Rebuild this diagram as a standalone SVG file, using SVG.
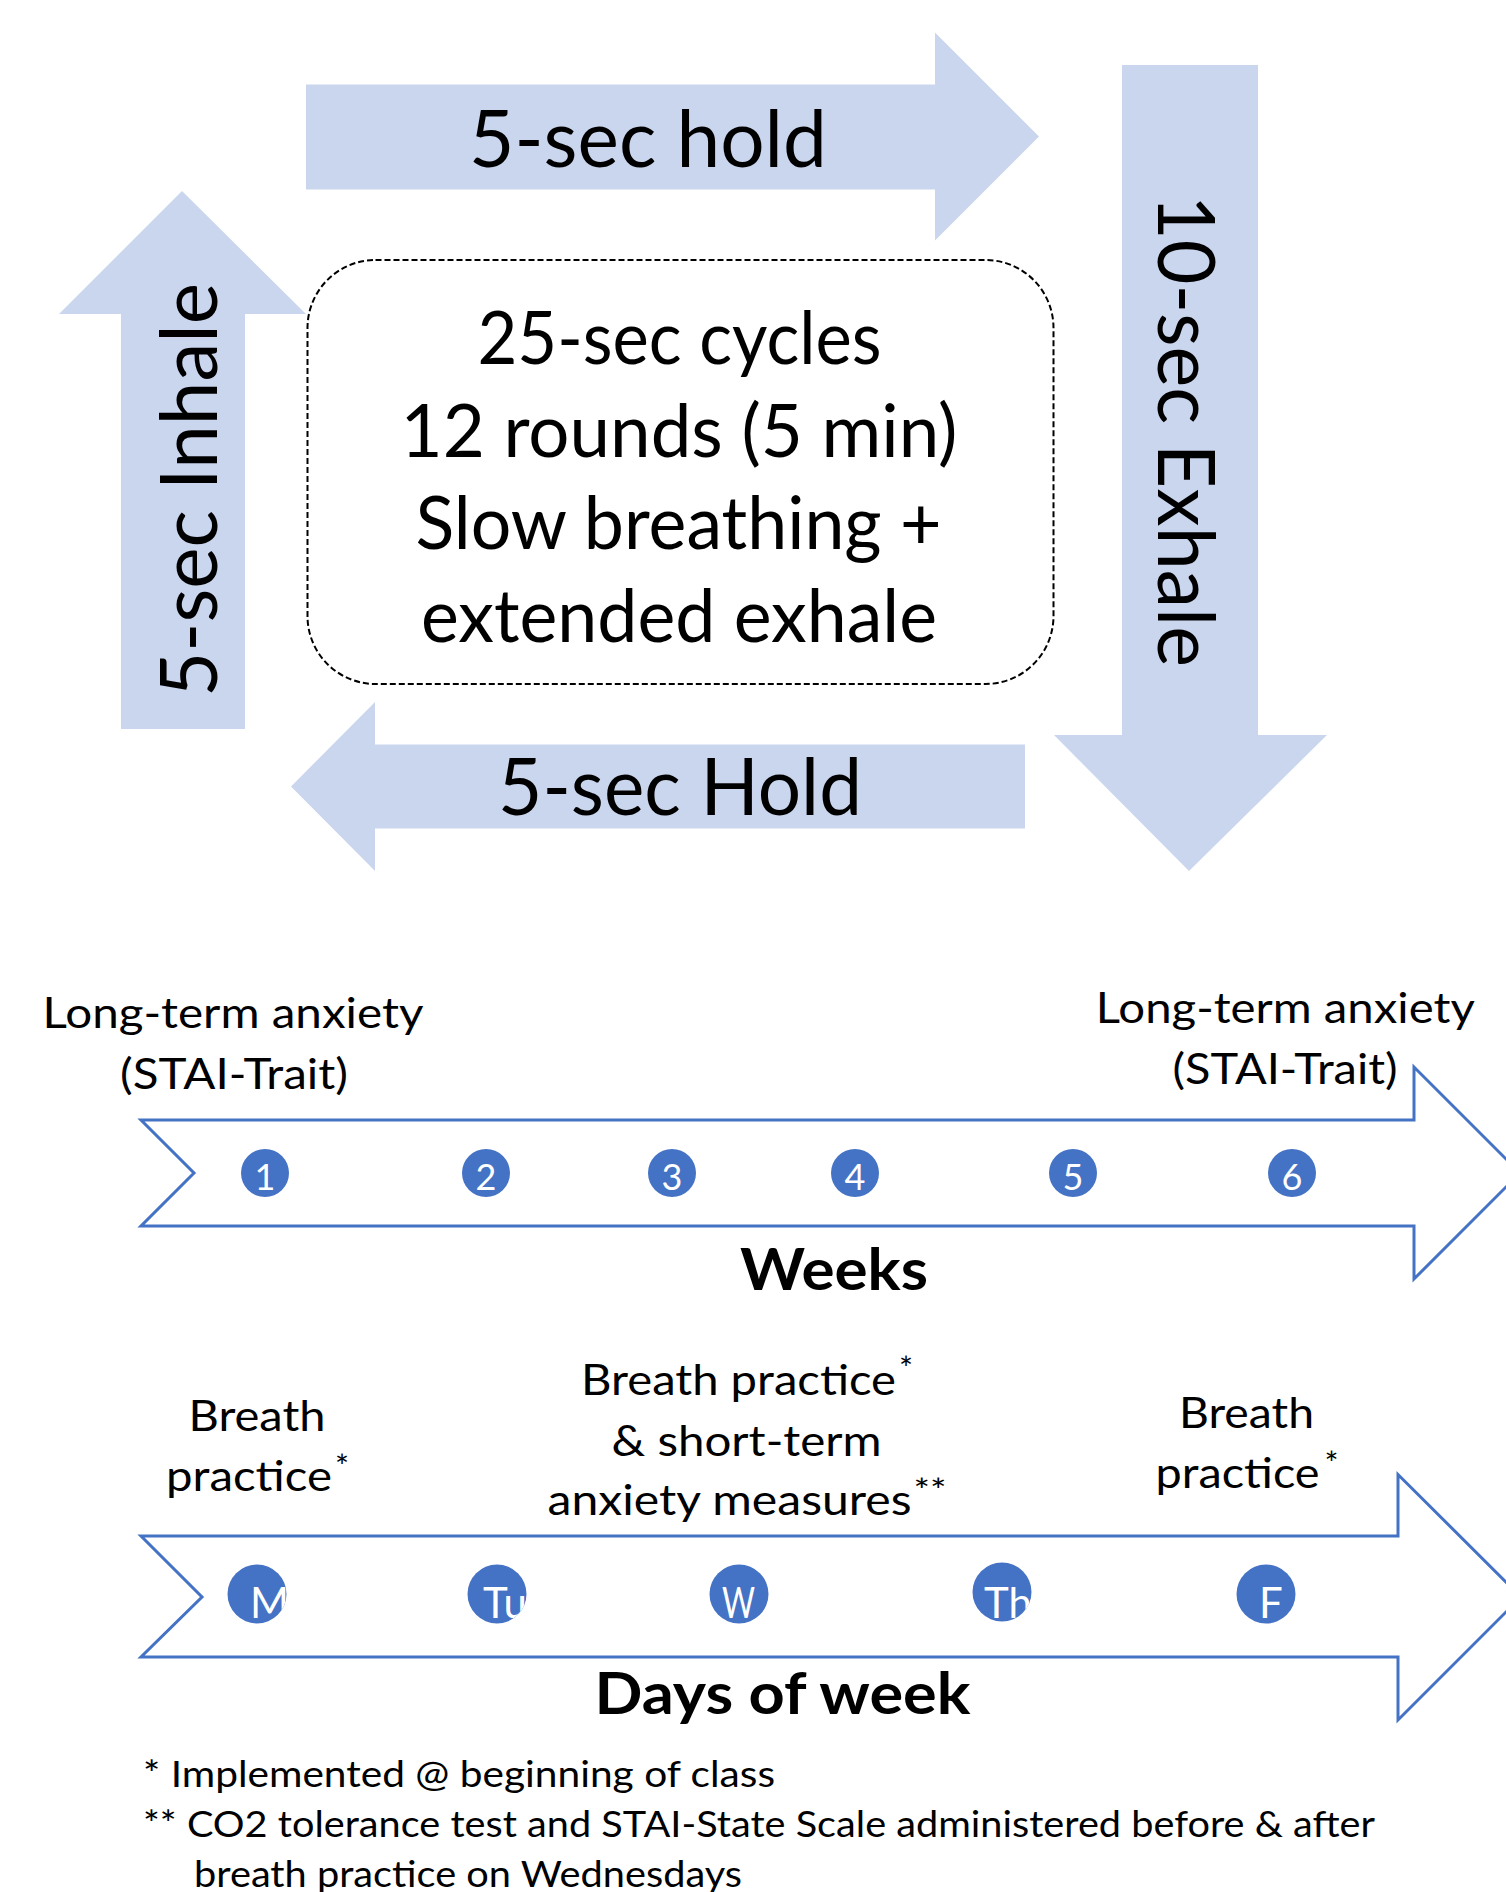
<svg xmlns="http://www.w3.org/2000/svg" width="1506" height="1892" viewBox="0 0 1506 1892">
<style>
  .t { font-family: Lato, 'Open Sans', 'DejaVu Sans', sans-serif; fill: #000; }
  .big { font-size: 80px; }
  .box { font-size: 73px; }
  .lbl { font-size: 42px; }
  .sup { font-size: 33px; }
  .foot { font-size: 37px; }
  .hdr { font-size: 58px; font-weight: bold; }
  .band { fill: #CAD6EE; }
  .tl { fill: #FFFFFF; stroke: #4472C4; stroke-width: 3; stroke-linejoin: miter; }
  .dot { fill: #4472C4; }
  .num { font-family: Lato, 'Open Sans', 'DejaVu Sans', sans-serif; fill: #FFFFFF; font-size: 36px; text-anchor: middle; }
  .day { font-family: Lato, 'Open Sans', 'DejaVu Sans', sans-serif; fill: #FFFFFF; font-size: 42px; }
</style>
<defs>
  <clipPath id="cM"><circle cx="257" cy="1594" r="29.5"/></clipPath>
  <clipPath id="cTu"><circle cx="497" cy="1594" r="29.5"/></clipPath>
  <clipPath id="cW"><circle cx="739" cy="1594" r="29.5"/></clipPath>
  <clipPath id="cTh"><circle cx="1002" cy="1592" r="29.5"/></clipPath>
  <clipPath id="cF"><circle cx="1266" cy="1594" r="29.5"/></clipPath>
</defs>
<rect width="1506" height="1892" fill="#FFFFFF"/>

<g id="connectors"></g>

<g id="hold-top">
  <polygon class="band" points="306,84.5 935,84.5 935,32.5 1039,136.5 935,240.5 935,189.5 306,189.5"/>
  <text class="t big" x="648" y="167" text-anchor="middle" textLength="358" lengthAdjust="spacingAndGlyphs">5-sec hold</text>
</g>

<g id="exhale">
  <polygon class="band" points="1122,65 1258,65 1258,735 1327,735 1189,871 1054,735 1122,735"/>
  <text class="t big" transform="translate(1158,431) rotate(90)" x="0" y="0" text-anchor="middle" textLength="472" lengthAdjust="spacingAndGlyphs">10-sec Exhale</text>
</g>

<g id="hold-bottom">
  <polygon class="band" points="1025,744.5 1025,828.5 375,828.5 375,871 291,786.5 375,702 375,744.5"/>
  <text class="t big" x="680" y="815" text-anchor="middle" textLength="364" lengthAdjust="spacingAndGlyphs">5-sec Hold</text>
</g>

<g id="inhale">
  <polygon class="band" points="121,729 121,314 59,314 182,191 306,314 245,314 245,729"/>
  <text class="t big" transform="translate(217,490) rotate(-90)" x="0" y="0" text-anchor="middle" textLength="414" lengthAdjust="spacingAndGlyphs">5-sec Inhale</text>
</g>

<g id="cycle-box">
  <rect x="307.5" y="260" width="746" height="424" rx="68" ry="68" fill="#FFFFFF" stroke="#000000" stroke-width="2" stroke-dasharray="6,3"/>
  <text class="t box" x="679.5" y="364" text-anchor="middle" textLength="404" lengthAdjust="spacingAndGlyphs">25-sec cycles</text>
  <text class="t box" x="679" y="456.7" text-anchor="middle" textLength="557" lengthAdjust="spacingAndGlyphs">12 rounds (5 min)</text>
  <text class="t box" x="678.5" y="549.4" text-anchor="middle" textLength="526" lengthAdjust="spacingAndGlyphs">Slow breathing +</text>
  <text class="t box" x="679" y="642" text-anchor="middle" textLength="516" lengthAdjust="spacingAndGlyphs">extended exhale</text>
</g>

<g id="trait-left">
  <text class="t lbl" x="233" y="1028" text-anchor="middle" textLength="381" lengthAdjust="spacingAndGlyphs">Long-term anxiety</text>
  <text class="t lbl" x="234" y="1089" text-anchor="middle" textLength="228" lengthAdjust="spacingAndGlyphs">(STAI-Trait)</text>
</g>

<g id="trait-right">
  <text class="t lbl" x="1285.3" y="1022.7" text-anchor="middle" textLength="379" lengthAdjust="spacingAndGlyphs">Long-term anxiety</text>
  <text class="t lbl" x="1285" y="1084" text-anchor="middle" textLength="225" lengthAdjust="spacingAndGlyphs">(STAI-Trait)</text>
</g>

<g id="weeks-timeline">
  <polygon class="tl" points="141,1120 1414,1120 1414,1067 1520,1173 1414,1279 1414,1226 141,1226 194,1173"/>
  <circle class="dot" cx="265" cy="1173" r="24"/>
  <text class="num" x="265" y="1190">1</text>
  <circle class="dot" cx="486" cy="1173" r="24"/>
  <text class="num" x="486" y="1190">2</text>
  <circle class="dot" cx="672" cy="1173" r="24"/>
  <text class="num" x="672" y="1190">3</text>
  <circle class="dot" cx="855" cy="1173" r="24"/>
  <text class="num" x="855" y="1190">4</text>
  <circle class="dot" cx="1073" cy="1173" r="24"/>
  <text class="num" x="1073" y="1190">5</text>
  <circle class="dot" cx="1292" cy="1173" r="24"/>
  <text class="num" x="1292" y="1190">6</text>
  <text class="t hdr" x="834" y="1290" text-anchor="middle" textLength="188" lengthAdjust="spacingAndGlyphs">Weeks</text>
</g>

<g id="label-monday">
  <text class="t lbl" x="257" y="1430.6" text-anchor="middle" textLength="137" lengthAdjust="spacingAndGlyphs">Breath</text>
  <text class="t lbl" x="166" y="1490.7" textLength="166" lengthAdjust="spacingAndGlyphs">practice</text>
  <text class="t sup" x="335" y="1478">*</text>
</g>

<g id="label-wednesday">
  <text class="t lbl" x="581" y="1394.6" textLength="315" lengthAdjust="spacingAndGlyphs">Breath practice</text>
  <text class="t sup" x="899" y="1380">*</text>
  <text class="t lbl" x="746.5" y="1455.9" text-anchor="middle" textLength="270" lengthAdjust="spacingAndGlyphs">&amp; short-term</text>
  <text class="t lbl" x="547.6" y="1514.7" textLength="364" lengthAdjust="spacingAndGlyphs">anxiety measures</text>
  <text class="t sup" x="913.5" y="1502" textLength="33" lengthAdjust="spacingAndGlyphs">**</text>
</g>

<g id="label-friday">
  <text class="t lbl" x="1246.5" y="1427.6" text-anchor="middle" textLength="135" lengthAdjust="spacingAndGlyphs">Breath</text>
  <text class="t lbl" x="1155.6" y="1487.7" textLength="164" lengthAdjust="spacingAndGlyphs">practice</text>
  <text class="t sup" x="1324.6" y="1475">*</text>
</g>

<g id="days-timeline">
  <polygon class="tl" points="141,1536 1398,1536 1398,1474.5 1521,1597 1398,1720 1398,1657 141,1657 202,1597"/>
  <circle class="dot" cx="257" cy="1594" r="29.5"/>
  <text class="day" x="250" y="1618" clip-path="url(#cM)">M</text>
  <circle class="dot" cx="497" cy="1594" r="29.5"/>
  <text class="day" x="483" y="1618" clip-path="url(#cTu)">Tu</text>
  <circle class="dot" cx="739" cy="1594" r="29.5"/>
  <text class="day" x="722" y="1618" clip-path="url(#cW)" textLength="33" lengthAdjust="spacingAndGlyphs">W</text>
  <circle class="dot" cx="1002" cy="1592" r="29.5"/>
  <text class="day" x="984" y="1618" clip-path="url(#cTh)">Th</text>
  <circle class="dot" cx="1266" cy="1594" r="29.5"/>
  <text class="day" x="1259" y="1618" clip-path="url(#cF)">F</text>
  <text class="t hdr" x="782.5" y="1714" text-anchor="middle" textLength="376" lengthAdjust="spacingAndGlyphs">Days of week</text>
</g>

<g id="footnotes">
  <text class="t foot" x="143" y="1787" textLength="632" lengthAdjust="spacingAndGlyphs">* Implemented @ beginning of class</text>
  <text class="t foot" x="143" y="1837" textLength="1232" lengthAdjust="spacingAndGlyphs">** CO2 tolerance test and STAI-State Scale administered before &amp; after</text>
  <text class="t foot" x="194" y="1887" textLength="548" lengthAdjust="spacingAndGlyphs">breath practice on Wednesdays</text>
</g>
</svg>
